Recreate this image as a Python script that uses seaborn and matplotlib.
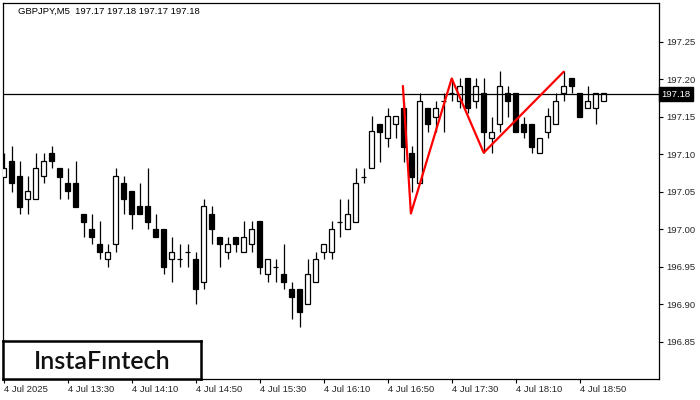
import matplotlib

matplotlib.use("Agg")

import matplotlib.pyplot as plt
import matplotlib.transforms as mtransforms
import seaborn as sns


# --------------------------------------------------
# Data (GBPJPY M5)
# --------------------------------------------------

opens = [
    197.070, 197.091, 197.071, 197.040, 197.040, 197.071, 197.101, 197.081,
    197.061, 197.061, 197.021, 197.001, 196.980, 196.960, 196.980, 197.061,
    197.051, 197.031, 197.031, 197.001, 197.001, 196.960, 196.960, 196.970,
    196.960, 196.930, 197.021, 196.990, 196.970, 196.990, 196.970, 196.980,
    197.011, 196.940, 196.950, 196.940, 196.920, 196.920, 196.901, 196.930,
    196.970, 196.970, 197.010, 197.001, 197.010, 197.070, 197.081, 197.140,
    197.121, 197.140, 197.161, 197.101, 197.061, 197.161, 197.150, 197.171,
    197.181, 197.171, 197.201, 197.171, 197.181, 197.121, 197.140, 197.181,
    197.181, 197.140, 197.140, 197.101, 197.130, 197.140, 197.181, 197.201,
    197.181, 197.161, 197.161, 197.171,
]

highs = [
    197.101, 197.111, 197.091, 197.071, 197.101, 197.101, 197.111, 197.081,
    197.081, 197.091, 197.021, 197.021, 197.011, 196.980, 197.081, 197.071,
    197.051, 197.061, 197.081, 197.021, 197.001, 196.990, 196.980, 196.980,
    196.970, 197.040, 197.031, 196.990, 196.990, 196.990, 197.011, 197.011,
    197.011, 196.960, 196.960, 196.980, 196.930, 196.920, 196.960, 196.970,
    196.980, 197.011, 197.040, 197.040, 197.081, 197.081, 197.151, 197.140,
    197.161, 197.151, 197.170, 197.111, 197.181, 197.161, 197.171, 197.181,
    197.201, 197.201, 197.201, 197.201, 197.201, 197.150, 197.211, 197.191,
    197.181, 197.150, 197.140, 197.121, 197.161, 197.181, 197.211, 197.201,
    197.181, 197.191, 197.181, 197.181,
]

lows = [
    197.070, 197.050, 197.020, 197.020, 197.040, 197.061, 197.081, 197.040,
    197.040, 197.030, 196.990, 196.980, 196.960, 196.950, 196.970, 197.020,
    197.000, 197.020, 197.000, 196.990, 196.940, 196.930, 196.950, 196.950,
    196.901, 196.920, 196.980, 196.950, 196.960, 196.970, 196.970, 196.970,
    196.940, 196.930, 196.930, 196.920, 196.880, 196.870, 196.901, 196.930,
    196.960, 196.960, 196.990, 197.001, 197.010, 197.061, 197.081, 197.090,
    197.110, 197.121, 197.090, 197.050, 197.061, 197.130, 197.130, 197.130,
    197.171, 197.161, 197.155, 197.161, 197.101, 197.101, 197.130, 197.150,
    197.130, 197.121, 197.101, 197.101, 197.121, 197.140, 197.171, 197.181,
    197.150, 197.161, 197.140, 197.171,
]

closes = [
    197.081, 197.061, 197.030, 197.051, 197.081, 197.091, 197.091, 197.070,
    197.051, 197.030, 197.010, 196.990, 196.970, 196.970, 197.071, 197.040,
    197.020, 197.020, 197.010, 196.990, 196.950, 196.970, 196.960, 196.970,
    196.920, 197.031, 197.000, 196.980, 196.980, 196.980, 196.990, 197.001,
    196.950, 196.960, 196.950, 196.930, 196.910, 196.890, 196.940, 196.960,
    196.980, 197.001, 197.010, 197.021, 197.061, 197.070, 197.131, 197.130,
    197.151, 197.151, 197.110, 197.070, 197.171, 197.140, 197.161, 197.171,
    197.181, 197.191, 197.161, 197.191, 197.130, 197.130, 197.191, 197.171,
    197.130, 197.130, 197.110, 197.121, 197.151, 197.171, 197.191, 197.191,
    197.150, 197.171, 197.181, 197.181,
]

time_labels = [
    "4 Jul 2025", "4 Jul 13:30", "4 Jul 14:10", "4 Jul 14:50",
    "4 Jul 15:30", "4 Jul 16:10", "4 Jul 16:50", "4 Jul 17:30",
    "4 Jul 18:10", "4 Jul 18:50",
]
label_bars = [0, 8, 16, 24, 32, 40, 48, 56, 64, 72]

price_ticks = [196.85, 196.90, 196.95, 197.00, 197.05,
               197.10, 197.15, 197.20, 197.25]

# triple-top pattern drawn in red
pattern_bars = [49.9, 50.9, 56.0, 60.0, 70.0]
pattern_prices = [197.191, 197.021, 197.201, 197.102, 197.210]

last_price = 197.18
header = "GBPJPY,M5  197.17 197.18 197.17 197.18"


# --------------------------------------------------
# Style
# --------------------------------------------------

sns.set_style("white")

plt.rcParams["font.family"] = ["Liberation Sans", "DejaVu Sans"]

fig = plt.figure(figsize=(7, 4), dpi=100)

ax = fig.add_axes([2.7 / 700, 20.7 / 400, 656.6 / 700, 376.6 / 400])

for spine in ax.spines.values():
    spine.set_color("black")
    spine.set_linewidth(0.9)


# --------------------------------------------------
# Candles
# --------------------------------------------------

bars = list(range(len(opens)))

ax.vlines(bars, lows, highs, color="black", linewidth=0.9, zorder=2)

for i in bars:

    o, c = opens[i], closes[i]

    if abs(c - o) < 0.0005:
        ax.hlines(o, i - 0.32, i + 0.32, color="black",
                  linewidth=0.9, zorder=3)
        continue

    face = "white" if c > o else "black"

    ax.bar(i, c - o, bottom=o, width=0.6, color=face,
           edgecolor="black", linewidth=0.9, zorder=3)


# --------------------------------------------------
# Pattern and last price line
# --------------------------------------------------

sns.lineplot(x=pattern_bars, y=pattern_prices, sort=False,
             color="red", linewidth=1.6, ax=ax, zorder=5)

ax.axhline(last_price, color="black", linewidth=0.9, zorder=4)

trans = mtransforms.blended_transform_factory(ax.transAxes, ax.transData)

ax.text(1.003, last_price, f"{last_price:.2f}", transform=trans,
        ha="left", va="center", color="white", fontsize=6.8,
        bbox=dict(boxstyle="square,pad=0.25", fc="black", ec="black"))


# --------------------------------------------------
# Axes
# --------------------------------------------------

ax.set_xlim(-0.125, 81.95)
ax.set_ylim(196.800, 197.302)

ax.yaxis.tick_right()
ax.set_yticks(price_ticks)
ax.set_yticklabels([f"{p:.2f}" for p in price_ticks])

ax.set_xticks(label_bars)
ax.set_xticklabels(time_labels, ha="left")

ax.tick_params(axis="both", which="both", direction="out", length=3,
               width=0.8, color="black", labelsize=6.8, pad=2)
ax.tick_params(axis="y", right=True, left=False)
ax.tick_params(axis="x", bottom=True, pad=1)

ax.set_xlabel("")
ax.set_ylabel("")
ax.grid(False)


# --------------------------------------------------
# Header and logo
# --------------------------------------------------

fig.text(18 / 700, 1 - 11 / 400, header, fontsize=6.8,
         ha="left", va="center", color="black")

logo_ax = fig.add_axes([3 / 700, 21 / 400, 198 / 700, 38 / 400])
logo_ax.set_xticks([])
logo_ax.set_yticks([])
logo_ax.set_facecolor("white")

for spine in logo_ax.spines.values():
    spine.set_color("black")
    spine.set_linewidth(1.8)

logo_ax.text(0.5, 0.47, "InstaFıntech", ha="center", va="center",
             fontsize=18, fontweight="semibold",
             family=["Lato", "DejaVu Sans"], color="#111111",
             transform=logo_ax.transAxes)


fig.savefig("out.png", dpi=100)

plt.close(fig)
